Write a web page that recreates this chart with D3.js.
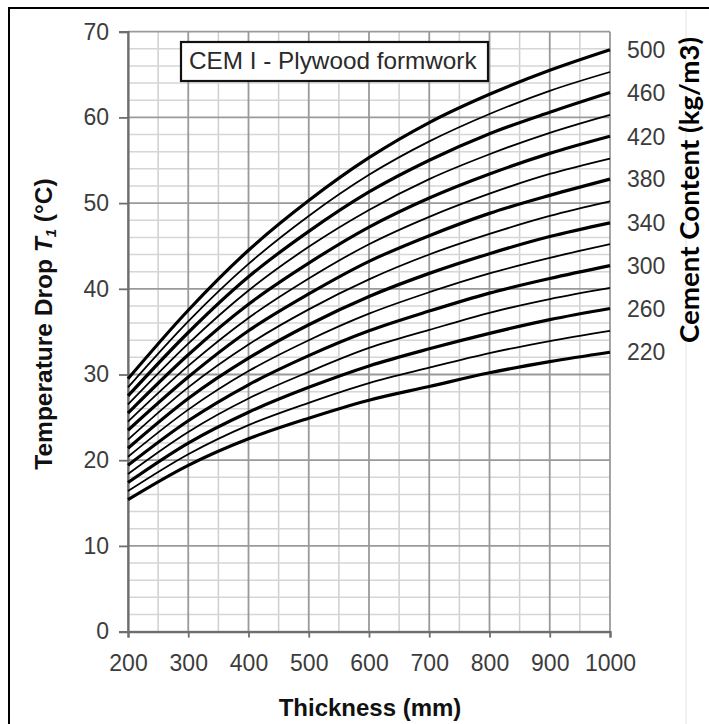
<!DOCTYPE html>
<html>
<head>
<meta charset="utf-8">
<script src="https://cdn.jsdelivr.net/npm/d3@7"></script>
<style>
  html, body { margin: 0; padding: 0; background: #fff; }
  svg { display: block; }
</style>
</head>
<body>
<svg id="chart" width="709" height="724"></svg>
<script>
// ---------------- DATA ----------------
const thickness = [200, 300, 400, 500, 600, 700, 800, 900, 1000];
const xTicks = [200, 300, 400, 500, 600, 700, 800, 900, 1000];
const yTicks = [0, 10, 20, 30, 40, 50, 60, 70];
const cementContents = [220, 240, 260, 280, 300, 320, 340, 360, 380, 400, 420, 440, 460, 480, 500];
const labelledContents = [500, 460, 420, 380, 340, 300, 260, 220];

const t220 = [15.4, 19.4, 22.5, 24.9, 27.0, 28.6, 30.2, 31.5, 32.6];
const t240 = [16.4, 20.7, 24.1, 26.7, 29.0, 30.8, 32.5, 33.9, 35.1];
const t260 = [17.4, 22.0, 25.6, 28.5, 31.0, 33.0, 34.8, 36.4, 37.7];
const t280 = [18.4, 23.3, 27.2, 30.3, 33.1, 35.2, 37.2, 38.8, 40.1];
const t300 = [19.4, 24.6, 28.8, 32.2, 35.1, 37.4, 39.5, 41.2, 42.7];
const t320 = [20.4, 25.9, 30.4, 34.0, 37.1, 39.6, 41.8, 43.6, 45.2];
const t340 = [21.4, 27.2, 31.9, 35.8, 39.1, 41.8, 44.1, 46.1, 47.7];
const t360 = [22.4, 28.5, 33.5, 37.6, 41.1, 44.0, 46.4, 48.5, 50.2];
const t380 = [23.5, 29.7, 35.1, 39.4, 43.2, 46.2, 48.8, 50.9, 52.8];
const t400 = [24.5, 31.0, 36.6, 41.2, 45.2, 48.4, 51.1, 53.4, 55.2];
const t420 = [25.5, 32.3, 38.2, 43.0, 47.2, 50.6, 53.4, 55.8, 57.8];
const t440 = [26.5, 33.6, 39.8, 44.9, 49.2, 52.8, 55.7, 58.2, 60.3];
const t460 = [27.5, 34.9, 41.4, 46.7, 51.3, 55.0, 58.1, 60.6, 62.9];
const t480 = [28.5, 36.2, 42.9, 48.5, 53.3, 57.2, 60.4, 63.1, 65.3];
const t500 = [29.5, 37.5, 44.5, 50.3, 55.3, 59.4, 62.7, 65.5, 67.9];

const seriesTable = [t220, t240, t260, t280, t300, t320, t340, t360, t380, t400, t420, t440, t460, t480, t500]
  .map((vals, i) => ({ content: cementContents[i], values: vals }));

// ---------------- LAYOUT ----------------
const svg = d3.select("#chart");
const plot = { left: 128, right: 610, top: 31.7, bottom: 631.6 };

const x = d3.scaleLinear().domain([200, 1000]).range([plot.left, plot.right]);
const y = d3.scaleLinear().domain([0, 70]).range([plot.bottom, plot.top]);

// outer frame
svg.append("rect")
  .attr("x", 9).attr("y", 8).attr("width", 720).attr("height", 730)
  .attr("fill", "#fff").attr("stroke", "#000").attr("stroke-width", 2);
svg.append("line")
  .attr("x1", 686).attr("x2", 686).attr("y1", 10).attr("y2", 724)
  .attr("stroke", "#ececec").attr("stroke-width", 1.5);

// grid
const g = svg.append("g");
const minorX = d3.range(250, 1000, 100);
const minorY = d3.range(2, 70, 2).filter(v => v % 10 !== 0);

g.selectAll(".vminor").data(minorX).join("line")
  .attr("x1", d => x(d)).attr("x2", d => x(d))
  .attr("y1", plot.top).attr("y2", plot.bottom)
  .attr("stroke", "#cfcfcf").attr("stroke-width", 1.5);
g.selectAll(".hminor").data(minorY).join("line")
  .attr("x1", plot.left).attr("x2", plot.right)
  .attr("y1", d => y(d)).attr("y2", d => y(d))
  .attr("stroke", "#d6d6d6").attr("stroke-width", 1.5);
g.selectAll(".vmajor").data(xTicks).join("line")
  .attr("x1", d => x(d)).attr("x2", d => x(d))
  .attr("y1", plot.top).attr("y2", plot.bottom)
  .attr("stroke", "#9a9a9a").attr("stroke-width", 1.8);
g.selectAll(".hmajor").data(yTicks).join("line")
  .attr("x1", plot.left).attr("x2", plot.right)
  .attr("y1", d => y(d)).attr("y2", d => y(d))
  .attr("stroke", "#9a9a9a").attr("stroke-width", 1.8);

// axes
const xAxis = d3.axisBottom(x).tickValues(xTicks).tickSize(6).tickPadding(12).tickFormat(d3.format("d"));
const yAxis = d3.axisLeft(y).tickValues(yTicks).tickSize(9).tickPadding(10).tickFormat(d3.format("d"));

const gx = svg.append("g").attr("transform", `translate(0,${plot.bottom})`).call(xAxis);
const gy = svg.append("g").attr("transform", `translate(${plot.left},0)`).call(yAxis);
[gx, gy].forEach(ax => {
  ax.select(".domain").attr("stroke", "#6e6e6e").attr("stroke-width", 2.2);
  ax.selectAll(".tick line").attr("stroke", "#6e6e6e").attr("stroke-width", 1.8);
  ax.selectAll(".tick text")
    .attr("fill", "#3c3c3c")
    .style("font-family", "'Liberation Sans', Arial, sans-serif")
    .style("font-size", "23px");
});
gx.selectAll(".tick text").attr("dy", "0.95em");

// curves
const line = d3.line()
  .x((d, i) => x(thickness[i]))
  .y(d => y(d))
  .curve(d3.curveMonotoneX);

svg.append("g").selectAll("path").data(seriesTable).join("path")
  .attr("d", d => line(d.values))
  .attr("fill", "none")
  .attr("stroke", "#000")
  .attr("stroke-width", d => labelledContents.includes(d.content) ? 3.2 : 1.8)
  .attr("stroke-linejoin", "round");

// right labels at curve ends
svg.append("g").selectAll("text")
  .data(seriesTable.filter(d => labelledContents.includes(d.content)))
  .join("text")
  .attr("x", 627)
  .attr("y", d => y(d.values[d.values.length - 1]))
  .attr("dy", "0.36em")
  .attr("fill", "#3c3c3c")
  .style("font-family", "'Liberation Sans', Arial, sans-serif")
  .style("font-size", "23px")
  .text(d => d.content);

// title box
svg.append("rect")
  .attr("x", 181).attr("y", 42).attr("width", 307).attr("height", 39)
  .attr("fill", "#fff").attr("stroke", "#111").attr("stroke-width", 2.2);
svg.append("text")
  .attr("x", 189).attr("y", 69)
  .attr("fill", "#2a2a2a")
  .style("font-family", "'Liberation Sans', Arial, sans-serif")
  .style("font-size", "24.3px")
  .text("CEM I - Plywood formwork");

// x axis title
svg.append("text")
  .attr("x", 370).attr("y", 716)
  .attr("text-anchor", "middle")
  .attr("fill", "#111")
  .style("font-family", "'Liberation Sans', Arial, sans-serif")
  .style("font-size", "24px")
  .style("font-weight", "bold")
  .text("Thickness (mm)");

// y axis title
const yt = svg.append("text")
  .attr("transform", "translate(52,324) rotate(-90)")
  .attr("text-anchor", "middle")
  .attr("fill", "#111")
  .style("font-family", "'Liberation Sans', Arial, sans-serif")
  .style("font-size", "24.5px")
  .style("font-weight", "bold");
yt.append("tspan").text("Temperature Drop ");
yt.append("tspan").style("font-style", "italic").text("T");
yt.append("tspan").style("font-style", "italic").style("font-size", "15px").attr("dy", 4).text("1");
yt.append("tspan").attr("dy", -4).text(" (°C)");

// right axis title
svg.append("text")
  .attr("transform", "translate(699,190) rotate(-90)")
  .attr("text-anchor", "middle")
  .attr("fill", "#000")
  .style("font-family", "Lato, 'Open Sans', sans-serif")
  .style("font-size", "27px")
  .style("font-weight", "bold")
  .attr("textLength", 306)
  .attr("lengthAdjust", "spacingAndGlyphs")
  .text("Cement Content (kg/m3)");
</script>
</body>
</html>
